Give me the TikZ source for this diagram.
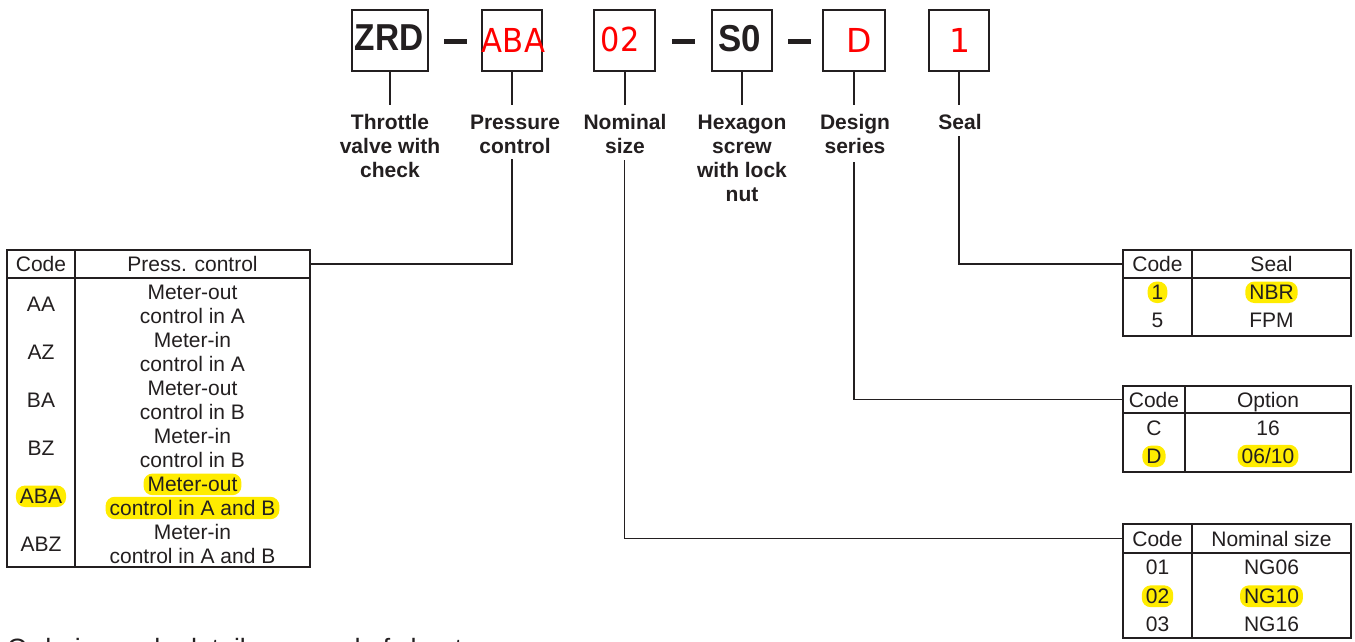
\documentclass[tikz,border=0pt]{standalone}
\usepackage{graphicx}
\usepackage{fontspec}
\setmainfont{Liberation Sans}
\newfontfamily\redfont{DejaVu Sans}
\definecolor{ink}{RGB}{35,31,32}
\definecolor{hl}{RGB}{255,236,0}
\definecolor{codered}{RGB}{255,0,0}
\tikzset{
  codebox/.style={draw=ink, line width=2pt, minimum height=61pt, inner sep=0pt},
  blk/.style={text=ink, font=\fontsize{37.5}{40}\selectfont\bfseries, inner sep=0pt},
  redtxt/.style={text=codered, font=\fontsize{33}{36}\selectfont\redfont, inner sep=0pt},
  dashbar/.style={fill=ink, minimum width=23pt, minimum height=5pt, inner sep=0pt},
  lbl/.style={text=ink, font=\fontsize{21}{24}\selectfont\bfseries, align=center, anchor=north, inner sep=0pt},
  tbl/.style={draw=ink, line width=1.8pt, inner sep=0pt},
  cell/.style={text=ink, font=\fontsize{21}{24}\selectfont, anchor=base, inner sep=0pt},
  hil/.style={cell, fill=hl, rounded corners=9pt, inner xsep=4pt, inner ysep=3.5pt},
  stub/.style={draw=ink, line width=2pt},
  link/.style={draw=ink, line width=1.8pt},
}
\begin{document}
\begin{tikzpicture}[x=1pt,y=-1pt]
\useasboundingbox (0,0) rectangle (1355,641);
\fill[white] (0,0) rectangle (1355,641);

% ---- code boxes ----
\node[codebox, minimum width=76pt] (bZRD) at (390,40.5) {};
\node[codebox, minimum width=60pt] (bABA) at (512,40.5) {};
\node[codebox, minimum width=61pt] (b02) at (624.5,40.5) {};
\node[codebox, minimum width=60pt] (bS0) at (742,40.5) {};
\node[codebox, minimum width=62pt] (bD) at (854,40.5) {};
\node[codebox, minimum width=60pt] (b1) at (959,40.5) {};

\node[blk] (tZRD) at (389,37.5) {\scalebox{0.89}[1]{ZRD}};
\node[redtxt] (tABA) at (513.5,40.3) {\scalebox{0.93}[1]{ABA}};
\node[redtxt] (t02) at (620,39.5) {\scalebox{0.92}[1]{02}};
\node[blk] (tS0) at (740,39) {\scalebox{0.93}[1]{S0}};
\node[redtxt] (tD) at (859.5,40) {D};
\node[redtxt] (t1) at (960,40.3) {1};

\node[dashbar] (d1) at (455.5,41.5) {};
\node[dashbar] (d2) at (683.5,41.5) {};
\node[dashbar] (d3) at (799.5,41.5) {};

% ---- labels ----
\node[lbl] (lZRD) at (390,114.5) {Throttle\\valve with\\check};
\node[lbl] (lABA) at (515,114.5) {Pressure\\control};
\node[lbl] (l02) at (625,114.5) {Nominal\\size};
\node[lbl] (lS0) at (742,114.5) {Hexagon\\screw\\with lock\\nut};
\node[lbl] (lD) at (855,114.5) {Design\\series};
\node[lbl] (l1) at (960,114.5) {Seal};

% ---- stubs from boxes ----
\foreach \n in {ZRD,ABA,02,S0,D,1}{
  \draw[stub, shorten >=9.5pt] (b\n.south) -- (b\n.south |- l\n.north);
}

% ---- tables: outlines ----
\node[tbl, minimum width=303pt, minimum height=317pt] (tPress) at (158.5,408.5) {};
\node[tbl, minimum width=303pt, minimum height=28pt] (hPress) at (158.5,264) {};
\draw[link] (75,250) -- (75,567);

\node[tbl, minimum width=228pt, minimum height=86pt] (tSeal) at (1237,293) {};
\node[tbl, minimum width=228pt, minimum height=28pt] (hSeal) at (1237,264) {};
\draw[link] (1192,250) -- (1192,336);

\node[tbl, minimum width=228pt, minimum height=86pt] (tOpt) at (1237,429) {};
\node[tbl, minimum width=228pt, minimum height=27pt] (hOpt) at (1237,399.5) {};
\draw[link] (1185,386) -- (1185,472);

\node[tbl, minimum width=228pt, minimum height=114pt] (tNom) at (1237,581) {};
\node[tbl, minimum width=228pt, minimum height=29pt] (hNom) at (1237,538.5) {};
\draw[link] (1192,524) -- (1192,638);

% ---- connectors ----
\draw[link, shorten <=5.5pt] (bABA.south |- lABA.south) |- (hPress.east);
\draw[link, shorten <=6pt] (b02.south |- l02.south) |- (hNom.west);
\draw[link, shorten <=8pt] (bD.south |- lD.south) |- (hOpt.west);
\draw[link, shorten <=6pt] (b1.south |- l1.south) |- (hSeal.west);

% ---- left table text ----
\node[cell] (pcH1) at (41,271.5) {Code};
\node[cell] (pcH2) at (192.5,271.5) {Press. control};

\node[cell] (pc1) at (41,311.5) {AA};
\node[cell] (pa1) at (192.5,299.5) {Meter-out};
\node[cell] (pb1) at (192.5,323.5) {control in A};

\node[cell] (pc2) at (41,359.5) {AZ};
\node[cell] (pa2) at (192.5,347.5) {Meter-in};
\node[cell] (pb2) at (192.5,371.5) {control in A};

\node[cell] (pc3) at (41,407.5) {BA};
\node[cell] (pa3) at (192.5,395.5) {Meter-out};
\node[cell] (pb3) at (192.5,419.5) {control in B};

\node[cell] (pc4) at (41,455.5) {BZ};
\node[cell] (pa4) at (192.5,443.5) {Meter-in};
\node[cell] (pb4) at (192.5,467.5) {control in B};

\node[hil] (pc5) at (41,503.5) {ABA};
\node[hil] (pa5) at (192.5,491.5) {Meter-out};
\node[hil] (pb5) at (192.5,515.5) {control in A and B};

\node[cell] (pc6) at (41,551.5) {ABZ};
\node[cell] (pa6) at (192.5,539.5) {Meter-in};
\node[cell] (pb6) at (192.5,563.5) {control in A and B};

% ---- seal table text ----
\node[cell] (sH1) at (1157.5,271.5) {Code};
\node[cell] (sH2) at (1271.5,271.5) {Seal};
\node[hil] (sc1) at (1157.5,299.5) {1};
\node[hil] (sv1) at (1271.5,299.5) {NBR};
\node[cell] (sc2) at (1157.5,327.5) {5};
\node[cell] (sv2) at (1271.5,327.5) {FPM};

% ---- option table text ----
\node[cell] (oH1) at (1154,407.5) {Code};
\node[cell] (oH2) at (1268,407.5) {Option};
\node[cell] (oc1) at (1154,435.5) {C};
\node[cell] (ov1) at (1268,435.5) {16};
\node[hil] (oc2) at (1154,463.5) {D};
\node[hil] (ov2) at (1268,463.5) {06/10};

% ---- nominal size table text ----
\node[cell] (nH1) at (1157.5,546) {Code};
\node[cell] (nH2) at (1271.5,546) {Nominal size};
\node[cell] (nc1) at (1157.5,574.5) {01};
\node[cell] (nv1) at (1271.5,574.5) {NG06};
\node[hil] (nc2) at (1157.5,603.5) {02};
\node[hil] (nv2) at (1271.5,603.5) {NG10};
\node[cell] (nc3) at (1157.5,631.5) {03};
\node[cell] (nv3) at (1271.5,631.5) {NG16};

% ---- note at the bottom, cut off by the page edge as in the reference ----
\node[cell, anchor=base west, font=\fontsize{26.5}{30}\selectfont] (note) at (7,657) {Ordering code details see end of sheet};
\end{tikzpicture}
\end{document}
